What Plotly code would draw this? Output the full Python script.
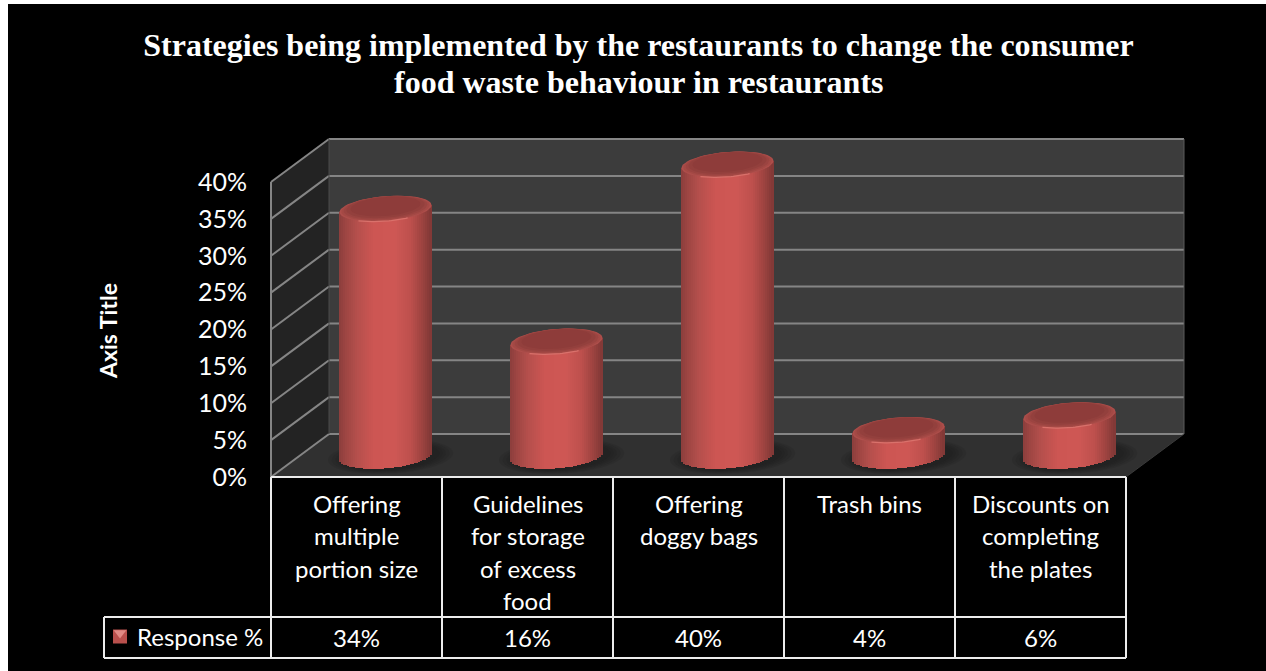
import numpy as np
import plotly.graph_objects as go

categories = [
    ["Offering", "multiple", "portion size"],
    ["Guidelines", "for storage", "of excess", "food"],
    ["Offering", "doggy bags"],
    ["Trash bins"],
    ["Discounts on", "completing", "the plates"],
]
response = [34, 16, 40, 4, 6]
ticks = [0, 5, 10, 15, 20, 25, 30, 35, 40]
series_name = "Response %"
title_line_1 = "Strategies being implemented by the restaurants to change the consumer"
title_line_2 = "food waste behaviour in restaurants"

W, H = 1266, 671
X0, Y0 = 271, 477          # pixel of category edge -0.5 and of value 0
PX_CAT, PX_VAL = 171, 7.375


def xu(px):
    return -0.5 + (px - X0) / PX_CAT


def yu(py):
    return (Y0 - py) / PX_VAL


DX, DY = 58 / PX_CAT, 43 / PX_VAL
N = len(response)
XL, XR = -0.5, N - 0.5
VTOP = ticks[-1]
GRID = "#858585"
FS_TABLE = 24
FS_TICK = 25
FONT = "Lato"
SERIF = "Liberation Serif"

shapes = []


def poly(pts, fill, line=None, lw=0, layer="below", opacity=1):
    d = "M " + " L ".join(f"{x},{y}" for x, y in pts) + " Z"
    shapes.append(dict(type="path", path=d, xref="x", yref="y", fillcolor=fill, opacity=opacity,
                       line=dict(color=line or fill, width=lw), layer=layer))


def seg(x0, y0, x1, y1, color=GRID, width=2, layer="below"):
    shapes.append(dict(type="line", xref="x", yref="y", x0=x0, y0=y0, x1=x1, y1=y1,
                       line=dict(color=color, width=width), layer=layer))


# walls and floor
poly([(XL + DX, DY), (XR + DX, DY), (XR + DX, VTOP + DY), (XL + DX, VTOP + DY)], "#3c3c3c")
poly([(XL, 0), (XL + DX, DY), (XL + DX, VTOP + DY), (XL, VTOP)], "#232323")
poly([(XL, 0), (XR, 0), (XR + DX, DY), (XL + DX, DY)], "#303030")

# floor shadows
A = 46 / PX_CAT
B = 12.5 / PX_VAL
S = 3.5 / PX_VAL
CY = DY / 2 - 0.05
TOP_SHIFT = -3.5 / PX_VAL
theta = np.linspace(0, 2 * np.pi, 73)
for i in range(N):
    cx = i + DX / 2
    for grow in [1.36, 1.28, 1.2, 1.13, 1.06]:
        xs = cx + 0.03 + A * grow * np.cos(theta)
        ys = CY - 0.1 + (B * grow) * np.sin(theta) + S * np.cos(theta)
        poly(list(zip(xs.round(4), ys.round(4))), "#161616", opacity=0.13)

# gridlines
for v in ticks:
    seg(XL, v, XL + DX, v + DY)
    seg(XL + DX, v + DY, XR + DX, v + DY)
seg(XL, 0, XL, VTOP)
seg(XL + DX, DY, XL + DX, VTOP + DY, color="#4a4a4a", width=1)
seg(XR + DX, DY, XR + DX, VTOP + DY, color="#5a5a5a", width=1)
seg(XR, 0, XR + DX, DY, color="#3a3a3a", width=1)

# table rules
table_lines = [
    (X0, 477, X0 + 5 * PX_CAT, 477),
    (104, 617, X0 + 5 * PX_CAT, 617),
    (104, 658, X0 + 5 * PX_CAT, 658),
    (104, 617, 104, 658),
]
for i in range(N + 1):
    table_lines.append((X0 + i * PX_CAT, 477, X0 + i * PX_CAT, 658))
for a, b, c, d in table_lines:
    seg(xu(a), yu(b), xu(c), yu(d), color="#ececec", width=2, layer="above")

# white sliver at the page's left and top edges
shapes.append(dict(type="rect", xref="paper", yref="paper", x0=0, x1=8 / W, y0=0, y1=1,
                   fillcolor="white", line_width=0, layer="above"))
shapes.append(dict(type="rect", xref="paper", yref="paper", x0=0, x1=1, y0=1 - 4 / H, y1=1,
                   fillcolor="white", line_width=0, layer="above"))

# cylinder shading
stop_t = np.array([-1.0, -0.85, -0.6, -0.25, 0.2, 0.55, 0.8, 1.0])
stop_c = np.array([[140, 62, 60], [158, 70, 67], [182, 80, 77], [205, 86, 83],
                   [207, 88, 85], [190, 80, 77], [158, 68, 65], [128, 56, 54]])


def shade(t):
    return "rgb(%d,%d,%d)" % tuple(np.interp(t, stop_t, stop_c[:, k]) for k in range(3))


fig = go.Figure()
strip = 2 / PX_CAT
nstrip = int(round(2 * A / strip))
disc_layers = [(1.0, 0.0, "#ad4e4b"), (0.96, 0.05, "#a44945"), (0.91, 0.12, "#9b4441"),
               (0.85, 0.2, "#93403d"), (0.76, 0.3, "#8e3c3a")]
for i, v in enumerate(response):
    cx = i + DX / 2
    top = CY + TOP_SHIFT + v
    t = (np.arange(nstrip) + 0.5) / nstrip * 2 - 1
    xs = cx + A * t
    base = CY + S * t - B * np.sqrt(1 - t ** 2)
    tops = top + S * t
    fig.add_trace(go.Bar(x=xs, y=tops - base, base=base, width=strip * 1.02,
                         marker=dict(color=[shade(q) for q in t], line_width=0),
                         showlegend=False, hoverinfo="skip", cliponaxis=False))
    # top disc: soft rim running into a darker inner face
    for scale, lift, col in disc_layers:
        ex = cx + A * scale * np.cos(theta)
        ey = top + lift + B * scale * np.sin(theta) + S * scale * np.cos(theta)
        fig.add_trace(go.Scatter(x=ex, y=ey, mode="lines", fill="toself", fillcolor=col,
                                 line=dict(color=col, width=0), showlegend=False, hoverinfo="skip"))
    arc = np.linspace(np.pi * 1.3, np.pi * 1.66, 25)
    fig.add_trace(go.Scatter(x=cx + A * np.cos(arc), y=top + B * np.sin(arc) + S * np.cos(arc),
                             mode="lines", line=dict(color="#d9716b", width=1.2),
                             showlegend=False, hoverinfo="skip"))

# legend key in the data table
key_x, key_y = xu(120), yu(636.5)
fig.add_trace(go.Scatter(x=[key_x], y=[key_y], mode="markers", showlegend=False, hoverinfo="skip",
                         marker=dict(symbol="square", size=14, color="#b9504d", line_width=0)))
fig.add_trace(go.Scatter(x=[key_x], y=[yu(633)], mode="markers", showlegend=False, hoverinfo="skip",
                         marker=dict(symbol="triangle-down", size=11, color="#e08a85", line_width=0)))

annotations = []


def label(px, py, text, size=FS_TABLE, **kw):
    annotations.append(dict(x=xu(px), y=yu(py), xref="x", yref="y", text=text, showarrow=False,
                            font=dict(color="white", size=size, family=kw.pop("family", FONT)),
                            xanchor=kw.pop("xanchor", "center"), yanchor="middle", **kw))


for i, lines in enumerate(categories):
    centre = X0 + (i + 0.5) * PX_CAT
    for j, line in enumerate(lines):
        label(centre, 503 + j * 32.6, line)
    label(centre, 637, f"{response[i]}%")
label(135, 636, series_name, xanchor="left")
label(108, 331, "<b>Axis Title</b>", size=23, textangle=-90)
label(638.5, 82, f"<b>{title_line_2}</b>", size=32, family=SERIF)

fig.update_layout(
    width=W, height=H, margin=dict(l=0, r=0, t=0, b=0),
    paper_bgcolor="black", plot_bgcolor="black",
    barmode="overlay", bargap=0, showlegend=False,
    title=dict(text=f"<b>{title_line_1}</b>", x=638.5 / W, xanchor="center", y=1 - 45 / H,
               yanchor="middle", font=dict(family=SERIF, size=32, color="white")),
    xaxis=dict(range=[xu(0), xu(W)], visible=False, fixedrange=True),
    yaxis=dict(range=[yu(H), yu(0)], anchor="free", position=X0 / W, showgrid=False, zeroline=False,
               showline=False, tickvals=ticks, ticktext=[f"{v}%" for v in ticks], ticks="",
               ticklabelstandoff=24, tickfont=dict(color="white", size=FS_TICK, family=FONT),
               fixedrange=True),
    shapes=shapes, annotations=annotations,
)

fig.write_html("out.html", config=dict(displayModeBar=False),
               post_script="document.body.style.margin='0';")
